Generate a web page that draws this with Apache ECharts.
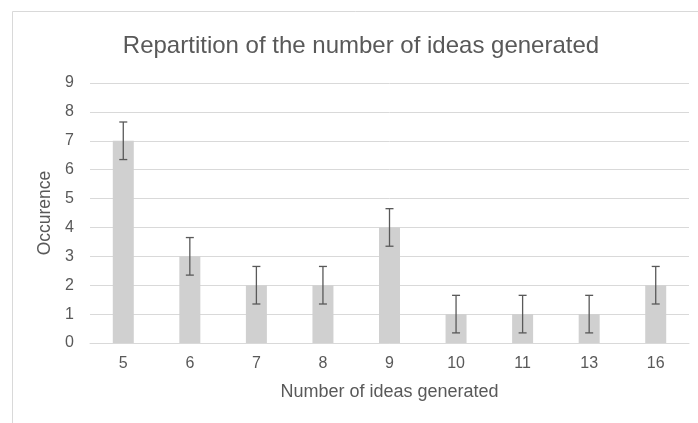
<!DOCTYPE html>
<html><head><meta charset="utf-8">
<script src="https://cdn.jsdelivr.net/npm/echarts@6/dist/echarts.min.js"></script>
<style>html,body{margin:0;padding:0;background:#fff}#c{width:698px;height:423px}</style>
</head><body><div id="c"></div>
<script>
const categories = ['5','6','7','8','9','10','11','13','16'];
const occurrences = [7,3,2,2,4,1,1,1,2];
const errorPlus = [0.65,0.65,0.65,0.65,0.65,0.65,0.65,0.65,0.65];
const errorMinus = [0.65,0.65,0.65,0.65,0.65,0.65,0.65,0.65,0.65];
const yTicks = [0,1,2,3,4,5,6,7,8,9];

const errData = categories.map((c,i)=>[i, occurrences[i]-errorMinus[i], occurrences[i]+errorPlus[i]]);
const chart = echarts.init(document.getElementById('c'), null, {renderer:'canvas'});
chart.setOption({
  animation:false,
  backgroundColor:'#fff',
  graphic:[{type:'rect',shape:{x:12.5,y:11.5,width:720,height:440},style:{fill:'none',stroke:'#d9d9d9',lineWidth:1},silent:true,z:-1}],
  title:{text:'Repartition of the number of ideas generated',left:356,top:29,textAlign:'center',
    textStyle:{fontFamily:'Liberation Sans',fontWeight:'normal',fontSize:24,color:'#595959'}},
  grid:{left:90,right:9,top:83,bottom:80},
  xAxis:{type:'category',data:categories,
    name:'Number of ideas generated',nameLocation:'middle',nameGap:40,
    nameTextStyle:{fontFamily:'Liberation Sans',fontSize:18,color:'#595959'},
    axisLine:{show:true,lineStyle:{color:'#d9d9d9'}},axisTick:{show:false},
    axisLabel:{fontFamily:'Liberation Sans',fontSize:16,color:'#595959',margin:13}},
  yAxis:{type:'value',min:yTicks[0],max:yTicks[yTicks.length-1],interval:1,
    name:'Occurence',nameLocation:'middle',nameGap:33,
    nameTextStyle:{fontFamily:'Liberation Sans',fontSize:17.5,color:'#595959'},
    axisLine:{show:false},axisTick:{show:false},
    splitLine:{lineStyle:{color:'#d9d9d9',width:1}},
    axisLabel:{fontFamily:'Liberation Sans',fontSize:16,color:'#595959',margin:16}},
  series:[
    {type:'bar',data:occurrences,barWidth:21,itemStyle:{color:'#d0d0d0'}},
    {type:'custom',data:errData,z:5,
     renderItem:function(params,api){
       const x=api.value(0);
       const lo=api.coord([x,api.value(1)]);
       const hi=api.coord([x,api.value(2)]);
       const hw=4;
       const st={stroke:'#595959',lineWidth:1.3};
       return {type:'group',children:[
         {type:'line',shape:{x1:hi[0],y1:hi[1],x2:lo[0],y2:lo[1]},style:st},
         {type:'line',shape:{x1:hi[0]-hw,y1:hi[1],x2:hi[0]+hw,y2:hi[1]},style:st},
         {type:'line',shape:{x1:lo[0]-hw,y1:lo[1],x2:lo[0]+hw,y2:lo[1]},style:st}
       ]};
     },
     encode:{x:0,y:[1,2]}}
  ]
});
</script></body></html>
